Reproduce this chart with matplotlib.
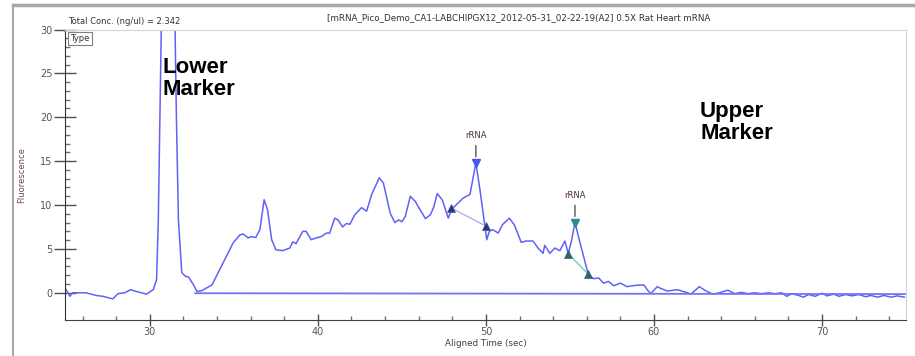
import matplotlib
matplotlib.use("Agg")
import matplotlib.pyplot as plt
from matplotlib.lines import Line2D
from matplotlib.ticker import FixedLocator

# electropherogram trace (aligned time in sec, fluorescence)
time_sec = [25.0, 25.24, 25.4, 25.8, 26.2, 26.8, 27.2, 27.8, 28.1, 28.5, 28.85, 29.2, 29.5, 29.8,
            30.2, 30.4, 30.5, 30.6, 30.68, 30.8, 31.1, 31.4, 31.5, 31.58, 31.7, 31.9, 32.1, 32.3,
            32.6, 32.8, 33.1, 33.7, 34.2, 34.6, 34.96, 35.36, 35.55, 35.85, 36.0, 36.3, 36.55,
            36.8, 37.0, 37.25, 37.5, 37.9, 38.33, 38.5, 38.7, 39.1, 39.3, 39.6, 39.9, 40.2, 40.5,
            40.7, 41.0, 41.2, 41.47, 41.7, 41.9, 42.2, 42.6, 42.9, 43.2, 43.65, 43.9, 44.3, 44.58,
            44.8, 45.0, 45.2, 45.5, 45.8, 46.07, 46.4, 46.7, 46.9, 47.1, 47.4, 47.76, 47.95,
            48.35, 48.65, 49.05, 49.4, 49.64, 49.9, 50.05, 50.2, 50.4, 50.73, 51.0, 51.4, 51.7,
            52.1, 52.4, 52.8, 53.1, 53.4, 53.5, 53.8, 54.1, 54.4, 54.7, 54.9, 55.1, 55.3, 55.6,
            56.1, 56.4, 56.7, 57.0, 57.3, 57.6, 58.0, 58.4, 58.9, 59.4, 59.6, 59.8, 60.2, 60.4,
            60.8, 61.4, 62.0, 62.2, 62.7, 63.1, 63.5, 63.9, 64.4, 64.8, 65.2, 65.6, 66.0, 66.4,
            66.8, 67.2, 67.6, 67.9, 68.2, 68.6, 68.9, 69.2, 69.6, 70.0, 70.3, 70.7, 71.0, 71.4,
            71.8, 72.2, 72.6, 72.9, 73.3, 73.7, 74.1, 74.5, 74.9]
fluor = [0.4, -0.4, 0.0, 0.0, 0.0, -0.3, -0.4, -0.7, -0.1, 0.0, 0.35, 0.15, 0.0, -0.15,
         0.35, 1.5, 8.0, 20.0, 30.0, 40.0, 46.0, 40.0, 30.0, 20.0, 8.3, 2.3, 1.9, 1.8,
         0.9, 0.15, 0.25, 0.9, 2.8, 4.3, 5.7, 6.6, 6.7, 6.25, 6.4, 6.3, 7.2,
         10.6, 9.5, 6.05, 4.9, 4.8, 5.1, 5.8, 5.6, 7.0, 7.0, 6.05, 6.25, 6.4, 6.8,
         6.8, 8.5, 8.3, 7.5, 7.9, 7.8, 8.9, 9.7, 9.3, 11.2, 13.1, 12.5, 9.1, 8.0,
         8.3, 8.1, 8.7, 11.0, 10.4, 9.5, 8.45, 8.9, 9.8, 11.3, 10.6, 8.5, 9.5,
         10.25, 10.8, 11.2, 14.8, 11.8, 8.15, 6.05, 7.0, 7.2, 6.8, 7.8, 8.5, 7.7,
         5.75, 5.9, 5.9, 5.1, 4.5, 5.4, 4.5, 5.1, 4.8, 5.9, 4.45, 6.0, 8.0, 5.7,
         2.05, 1.6, 1.7, 1.1, 1.3, 0.8, 1.1, 0.7, 0.85, 0.9, 0.35, -0.1, 0.7, 0.5,
         0.2, 0.35, 0.0, -0.15, 0.7, 0.2, -0.15, 0.0, 0.3, -0.1, 0.05, -0.1, 0.0, -0.1,
         0.0, -0.1, 0.0, -0.4, -0.1, -0.3, -0.5, -0.2, -0.4, -0.05, -0.35, -0.15, -0.4, -0.2,
         -0.35, -0.2, -0.45, -0.3, -0.5, -0.3, -0.5, -0.35, -0.5]

baseline_x = [32.7, 75.0]
baseline_y = [-0.05, -0.15]

# rRNA peaks: apex, start and end of each peak
peak_x = [49.4, 55.3]
peak_y = [14.8, 8.0]
start_x = [47.9, 54.9]
start_y = [9.7, 4.45]
end_x = [50.0, 56.1]
end_y = [7.6, 2.1]
peak_labels = ["rRNA", "rRNA"]
peak_colors = ["#4b55f0", "#2a8c8c"]
foot_colors = ["#22368f", "#1f6b73"]
join_colors = ["#a9b4f2", "#6fd0c0"]

fig = plt.figure(figsize=(9.15, 3.56), dpi=100)
ax = fig.add_axes([65 / 915, 1 - 320 / 356, 841 / 915, 290.5 / 356])

ax.plot(time_sec, fluor, color="#6161f7", lw=1.1)
ax.plot(baseline_x, baseline_y, color="#7373f5", lw=1.3)

for i in range(len(peak_x)):
    ax.plot([start_x[i], end_x[i]], [start_y[i], end_y[i]], color=join_colors[i], lw=1.0)
    ax.plot([start_x[i], end_x[i]], [start_y[i], end_y[i]], ls="none", marker="^",
            ms=6, color=foot_colors[i], mec="#555555", mew=0.5)
    ax.plot(peak_x[i], peak_y[i], marker="v", ms=6, color=peak_colors[i])
    ax.annotate(peak_labels[i], xy=(peak_x[i], peak_y[i] + 0.4),
                xytext=(peak_x[i], peak_y[i] + 2.6), ha="center", va="bottom",
                fontsize=6, color="#4a3030",
                arrowprops=dict(arrowstyle="-", color="#707070", lw=1.2))

ax.set_xlim(24.95, 75.0)
ax.set_ylim(-3.1, 30)
ax.set_xticks([30, 40, 50, 60, 70])
ax.set_yticks([0, 5, 10, 15, 20, 25, 30])
ax.xaxis.set_minor_locator(FixedLocator([t for t in range(26, 75, 2) if t % 10 != 0]))
ax.yaxis.set_minor_locator(FixedLocator([t for t in range(1, 30) if t % 5 != 0]))
ax.tick_params(axis="y", which="major", direction="inout", length=16, width=1,
               color="#505050", labelsize=7, labelcolor="#555555", pad=1)
ax.tick_params(axis="x", which="major", direction="inout", length=8.5, width=1,
               color="#505050", labelsize=7, labelcolor="#555555", pad=1)
ax.tick_params(axis="y", which="minor", direction="in", length=3.6, width=1, color="#707070")
ax.tick_params(axis="x", which="minor", direction="in", length=3, width=1, color="#707070")

for side in ["top", "right"]:
    ax.spines[side].set_color("#d4d4d4")
ax.spines["left"].set_color("#303030")
ax.spines["bottom"].set_color("#404040")

ax.set_xlabel("Aligned Time (sec)", fontsize=6.3, color="#404040", labelpad=1)
ax.set_ylabel("Fluorescence", fontsize=6, color="#6b4a4a", labelpad=10)

ax.text(0.006, 0.985, "Type", transform=ax.transAxes, fontsize=6, va="top", ha="left",
        color="#333333", bbox=dict(boxstyle="square,pad=0.25", fc="white", ec="#808080", lw=0.8))

fig.text(68 / 915, 1 - 22 / 356, "Total Conc. (ng/ul) = 2.342", fontsize=6,
         color="#333333", va="center")
fig.text(327 / 915, 1 - 18 / 356,
         "[mRNA_Pico_Demo_CA1-LABCHIPGX12_2012-05-31_02-22-19(A2] 0.5X Rat Heart mRNA",
         fontsize=6.3, color="#333333", va="center")

fig.text(162 / 915, 1 - 57 / 356, "Lower\nMarker", fontsize=16, fontweight="bold",
         family="Liberation Sans", va="top", ha="left", linespacing=1.05)
fig.text(700 / 915, 1 - 101 / 356, "Upper\nMarker", fontsize=16, fontweight="bold",
         family="Liberation Sans", va="top", ha="left", linespacing=1.05)

# outer window frame
fig.add_artist(Line2D([13 / 915, 1.0], [1 - 5 / 356, 1 - 5 / 356], color="#a8a8a8", lw=2.5))
fig.add_artist(Line2D([13 / 915, 13 / 915], [0, 1 - 5 / 356], color="#a8a8a8", lw=1.5))

fig.savefig("out.png", dpi=100)
